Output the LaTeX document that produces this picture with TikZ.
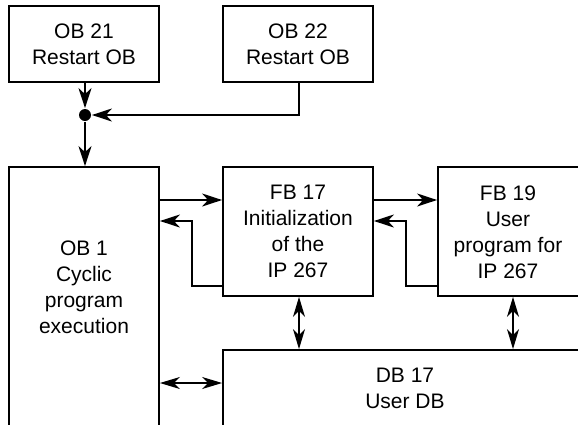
\documentclass[tikz,border=0pt]{standalone}
\usepackage{fontspec}
\setmainfont{Liberation Sans}
\usetikzlibrary{arrows.meta}
\begin{document}
\begin{tikzpicture}[x=1pt,y=-1pt,
  line width=1.8pt,
  box/.style={draw, line width=1.8pt, rectangle, inner sep=0pt, align=center,
    font=\fontsize{21}{26}\selectfont},
  txt/.style={inner sep=0pt, align=center, font=\fontsize{21}{26}\selectfont},
  arr/.style={-{Stealth[length=20pt,width=13pt,inset=6pt]}},
  darr/.style={{Stealth[length=20pt,width=12pt,inset=6pt]}-{Stealth[length=20pt,width=12pt,inset=6pt]}},
  dotnode/.style={circle, fill=black, inner sep=0pt, minimum size=12pt}]
\useasboundingbox (0,0) rectangle (578,424);
\clip (0,0) rectangle (578,424);
% boxes
\node[box, minimum width=150pt, minimum height=76pt] (ob21) at (84,44) {OB 21\\Restart OB};
\node[box, minimum width=150pt, minimum height=76pt] (ob22) at (298,44) {OB 22\\Restart OB};
\node[box, minimum width=150pt, minimum height=290pt] (ob1) at (84,312) {};
\node[txt] (ob1t) at (84,287) {OB 1\\Cyclic\\program\\execution};
\node[box, minimum width=150pt, minimum height=129pt] (fb17) at (298,231.5) {FB 17\\Initialization\\of the\\IP 267};
\node[box, minimum width=170pt, minimum height=129pt] (fb19) at (523,231.5) {};
\node[txt] (fb19t) at (508,232) {FB 19\\User\\program for\\IP 267};
\node[box, minimum width=380pt, minimum height=100pt] (db) at (413,400) {};
\node[txt] (dbt) at (405,388) {DB 17\\User DB};
% junction
\node[dotnode] (dot) at (85,115) {};
% connectors
\draw[arr] (ob21.south -| dot) -- (dot);
\draw[arr] (ob22.south -| 299,0) |- (dot);
\draw[arr] (dot) -- (dot |- ob1.north);
\draw[arr] (ob1.east |- 0,200) -- (fb17.west |- 0,200);
\draw[arr] (fb17.west |- 0,286) -| (192,221) -- (ob1.east |- 0,221);
\draw[arr] (fb17.east |- 0,200) -- (fb19.west |- 0,200);
\draw[arr] (fb19.west |- 0,286) -| (406,221) -- (fb17.east |- 0,221);
\draw[darr] (fb17.south -| 299,0) -- (db.north -| 299,0);
\draw[darr] (fb19.south -| 513,0) -- (db.north -| 513,0);
\draw[darr] (ob1.east |- 0,383) -- (db.west |- 0,383);
\end{tikzpicture}
\end{document}
